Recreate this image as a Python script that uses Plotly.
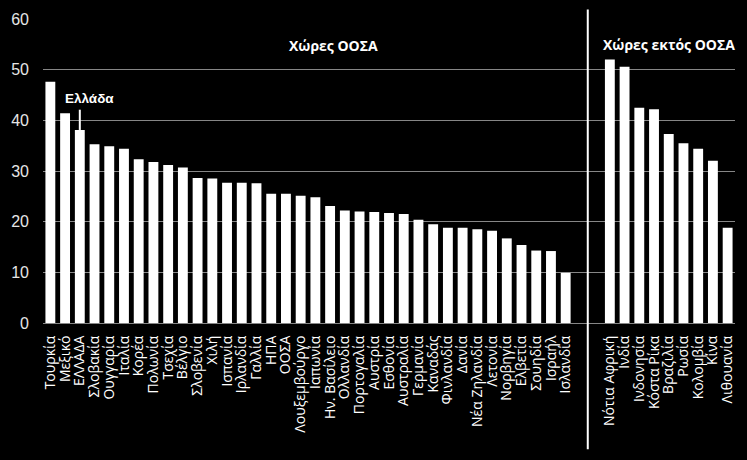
import plotly.graph_objects as go

oecd_countries = ["Τουρκία", "Μεξικό", "ΕΛΛΑΔΑ", "Σλοβακία", "Ουγγαρία", "Ιταλία", "Κορέα",
                  "Πολωνία", "Τσεχία", "Βέλγιο", "Σλοβενία", "Χιλή", "Ισπανία", "Ιρλανδία",
                  "Γαλλία", "ΗΠΑ", "ΟΟΣΑ", "Λουξεμβούργο", "Ιαπωνία", "Ην. Βασίλειο",
                  "Ολλανδία", "Πορτογαλία", "Αυστρία", "Εσθονία", "Αυστραλία", "Γερμανία",
                  "Καναδάς", "Φινλανδία", "Δανία", "Νέα Ζηλανδία", "Λετονία", "Νορβηγία",
                  "Ελβετία", "Σουηδία", "Ισραήλ", "Ισλανδία"]
oecd_values = [47.6, 41.4, 38.1, 35.3, 34.9, 34.4, 32.3, 31.8, 31.2, 30.7, 28.6, 28.5,
               27.7, 27.7, 27.6, 25.5, 25.5, 25.1, 24.8, 23.1, 22.2, 22.0, 21.9, 21.7,
               21.5, 20.4, 19.5, 18.8, 18.8, 18.5, 18.2, 16.7, 15.4, 14.3, 14.2, 9.9]

non_oecd_countries = ["Νότια Αφρική", "Ινδία", "Ινδονησία", "Κόστα Ρίκα", "Βραζιλία",
                      "Ρωσία", "Κολομβία", "Κίνα", "Λιθουανία"]
non_oecd_values = [52.0, 50.6, 42.5, 42.2, 37.3, 35.5, 34.4, 32.0, 18.8]

y_ticks = [0, 10, 20, 30, 40, 50, 60]

gap = 2  # empty slots between the two groups
x_oecd = list(range(len(oecd_countries)))
start_non = len(oecd_countries) + gap
x_non = list(range(start_non, start_non + len(non_oecd_countries)))
sep_x = len(oecd_countries) - 0.5 + gap / 2

greece_idx = oecd_countries.index("ΕΛΛΑΔΑ")
greece_val = oecd_values[greece_idx]

fig = go.Figure()
fig.add_trace(go.Bar(x=x_oecd, y=oecd_values, marker=dict(color="white", line=dict(width=0)),
                     width=0.67, showlegend=False))
fig.add_trace(go.Bar(x=x_non, y=non_oecd_values, marker=dict(color="white", line=dict(width=0)),
                     width=0.67, showlegend=False))

fig.add_shape(type="line", xref="x", yref="paper", x0=sep_x, x1=sep_x, y0=-0.415, y1=1.031,
              line=dict(color="white", width=2))
fig.add_shape(type="line", xref="x", yref="y", x0=greece_idx, x1=greece_idx,
              y0=42.1, y1=greece_val, line=dict(color="white", width=2))

fig.add_annotation(x=2.68, y=44.3, xref="x", yref="y", text="<b>Ελλάδα</b>", showarrow=False,
                   font=dict(family="Liberation Sans, Arial", size=13.5, color="white"))
fig.add_annotation(x=19.2, y=54.7, xref="x", yref="y", text="<b>Χώρες ΟΟΣΑ</b>", showarrow=False,
                   font=dict(family="Open Sans", size=14, color="white"))
fig.add_annotation(x=42.0, y=54.9, xref="x", yref="y", text="<b>Χώρες εκτός ΟΟΣΑ</b>",
                   showarrow=False, font=dict(family="Open Sans", size=14, color="white"))

fig.update_layout(
    width=747, height=460,
    paper_bgcolor="black", plot_bgcolor="black",
    margin=dict(l=38, r=11, t=14.5, b=137),
    bargap=0.33,
    xaxis=dict(
        range=[-0.5, start_non + len(non_oecd_countries) - 0.5],
        tickmode="array",
        tickvals=x_oecd + x_non,
        ticktext=oecd_countries + non_oecd_countries,
        tickangle=-90,
        tickfont=dict(family="Open Sans", size=14, color="white"),
        showgrid=False, zeroline=False,
        showline=True, linecolor="#868686", linewidth=1,
        ticks="outside", ticklen=0, ticklabelstandoff=6,
    ),
    yaxis=dict(
        range=[0, 60],
        tickvals=y_ticks,
        tickfont=dict(family="Liberation Sans, Arial", size=16, color="#e6e6e6"),
        showgrid=True, gridcolor="#868686", gridwidth=1,
        zeroline=False, showline=False,
        ticks="", ticklabelstandoff=13,
    ),
)

fig.write_html("out.html", config={"displayModeBar": False},
               post_script="document.body.style.margin='0';document.body.style.background='black';")
